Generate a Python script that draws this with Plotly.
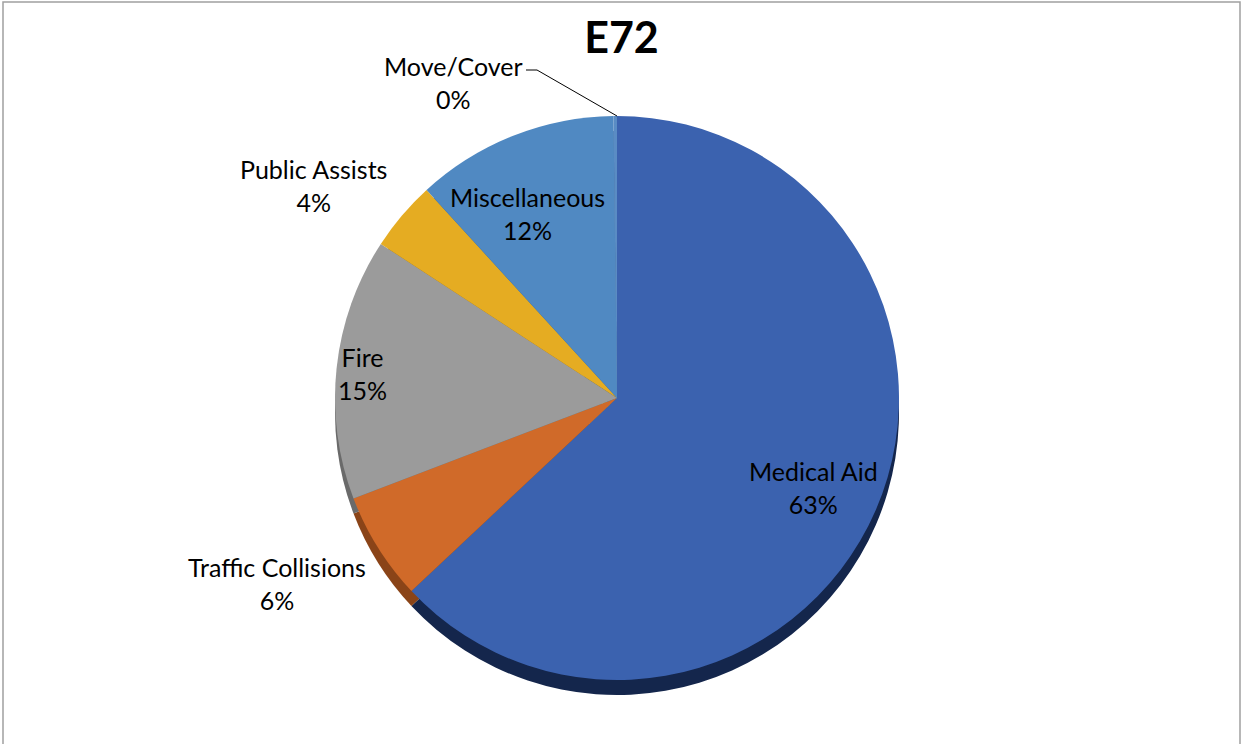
import plotly.graph_objects as go

title = "E72"
categories = ["Medical Aid", "Traffic Collisions", "Fire", "Public Assists", "Miscellaneous", "Move/Cover"]
values = [63.0, 6.2, 15.0, 4.0, 11.6, 0.2]
colors = ["#3B62AF", "#D06A29", "#9B9B9B", "#E5AC22", "#5089C2", "#5A8CC4"]
rim_colors = ["#14264C", "#8A4418", "#6A6A6A", "#9A7216", "#2E5A8A", "#2E5A8A"]

FONT = "Lato"
W, H = 1243, 744
cx, cy, r = 617, 398, 282
depth = 15

def px(x):
    return x / W

def py(y):
    return 1 - y / H

def dom(cx, cy, r):
    return dict(x=[px(cx - r), px(cx + r)], y=[py(cy + r), py(cy - r)])

fig = go.Figure()
# 3D rim (shadow pie below)
fig.add_trace(go.Pie(
    labels=categories, values=values, sort=False, direction="clockwise", rotation=0,
    marker=dict(colors=rim_colors, line=dict(width=0)), textinfo="none",
    hoverinfo="skip", showlegend=False, domain=dom(cx, cy + depth, r),
))
fig.add_trace(go.Pie(
    labels=categories, values=values, sort=False, direction="clockwise", rotation=0,
    marker=dict(colors=colors, line=dict(width=0)), textinfo="none",
    hovertemplate="%{label}: %{percent:.0%}<extra></extra>",
    showlegend=False, domain=dom(cx, cy, r),
))

total = sum(values)
def lab(i):
    return f"{categories[i]}<br>{round(values[i] / total * 100):.0f}%"

label_pos = [(813, 487), (277, 583), (362, 373), (313, 185), (527, 214), (453, 82)]
ann = []
for i, (x, y) in enumerate(label_pos):
    ann.append(dict(x=px(x), y=py(y), text=lab(i), showarrow=False, xref="paper", yref="paper",
                    xanchor="center", yanchor="middle",
                    font=dict(family=FONT, size=25, color="#000000")))

fig.update_layout(
    width=W, height=H, paper_bgcolor="white", plot_bgcolor="white",
    margin=dict(l=0, r=0, t=0, b=0),
    title=dict(text=f"<b>{title}</b>", x=0.5, xanchor="center", y=py(38), yanchor="middle",
               font=dict(family=FONT, size=43, color="#000000")),
    annotations=ann,
    shapes=[
        dict(type="rect", xref="paper", yref="paper", x0=px(3), x1=px(1240), y0=-0.05, y1=py(2),
             line=dict(color="#A0A0A0", width=1.5)),
        dict(type="line", xref="paper", yref="paper", x0=px(526), y0=py(70), x1=px(537), y1=py(70),
             line=dict(color="#000000", width=1)),
        dict(type="line", xref="paper", yref="paper", x0=px(537), y0=py(70), x1=px(617), y1=py(cy - r),
             line=dict(color="#000000", width=1)),
    ],
)
fig.write_html("out.html", config={"displayModeBar": False},
               post_script="document.body.style.margin='0';")
